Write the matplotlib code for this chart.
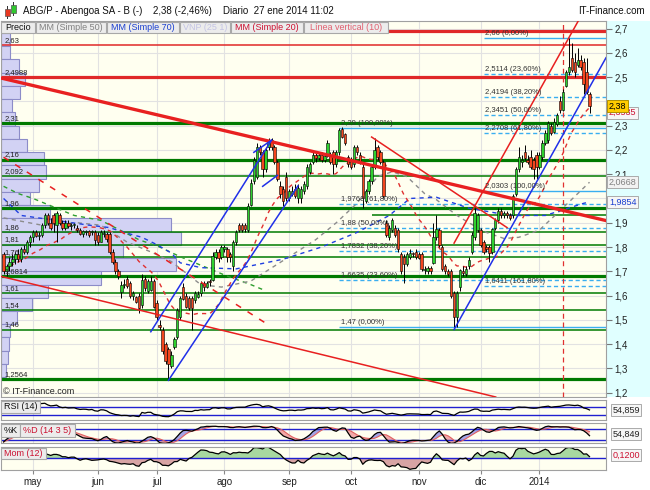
import numpy as np
import pandas as pd
import matplotlib
matplotlib.use('Agg')
import matplotlib.pyplot as plt
from matplotlib.patches import Rectangle
from matplotlib.transforms import blended_transform_factory

plt.rcParams['font.family'] = ['Liberation Sans', 'DejaVu Sans']

# ---------------- data ----------------
holidays = ['2013-05-01', '2013-12-25', '2013-12-26', '2014-01-01']
dates = pd.bdate_range('2013-04-17', '2014-01-27')
dates = dates[~dates.isin(pd.to_datetime(holidays))]

opens = [1.77, 1.70, 1.72, 1.74, 1.75, 1.77, 1.75, 1.79, 1.78, 1.82,
         1.84, 1.86, 1.845, 1.85, 1.89, 1.93, 1.90, 1.93, 1.89, 1.93,
         1.90, 1.88, 1.90, 1.885, 1.89, 1.88, 1.87, 1.855, 1.86, 1.865,
         1.86, 1.86, 1.85, 1.82, 1.855, 1.855, 1.855, 1.78, 1.74, 1.70,
         1.615, 1.645, 1.67, 1.65, 1.60, 1.595, 1.60, 1.56, 1.67, 1.62,
         1.625, 1.66, 1.57, 1.48, 1.46, 1.40, 1.38, 1.31, 1.39, 1.43,
         1.51, 1.635, 1.60, 1.59, 1.59, 1.58, 1.595, 1.61, 1.65, 1.635,
         1.66, 1.665, 1.76, 1.78, 1.76, 1.79, 1.79, 1.77, 1.72, 1.82,
         1.89, 1.89, 1.89, 1.87, 1.975, 2.07, 2.09, 2.21, 2.19, 2.12,
         2.21, 2.24, 2.21, 2.15, 2.05, 2.04, 2.09, 2.00, 2.02, 2.04,
         2.00, 2.00, 2.03, 2.05, 2.11, 2.15, 2.18, 2.165, 2.18, 2.16,
         2.175, 2.18, 2.19, 2.14, 2.19, 2.285, 2.265, 2.17, 2.16, 2.14,
         2.21, 2.18, 2.13, 1.99, 2.03, 2.07, 2.13, 2.21, 2.19, 2.15,
         1.90, 1.84, 1.87, 1.88, 1.87, 1.77, 1.76, 1.73, 1.76, 1.775,
         1.78, 1.77, 1.77, 1.705, 1.70, 1.715, 1.735, 1.84, 1.87, 1.80,
         1.72, 1.70, 1.70, 1.61, 1.51, 1.635, 1.70, 1.69, 1.72, 1.78,
         1.84, 1.87, 1.87, 1.82, 1.80, 1.80, 1.78, 1.88, 1.91, 1.95,
         1.93, 1.94, 1.93, 1.93, 2.02, 2.12, 2.15, 2.19, 2.16, 2.17,
         2.16, 2.18, 2.13, 2.17, 2.23, 2.24, 2.30, 2.275, 2.305, 2.40,
         2.365, 2.465, 2.52, 2.58, 2.56, 2.55, 2.57, 2.56, 2.52, 2.43]
highs = [1.78, 1.73, 1.76, 1.77, 1.78, 1.79, 1.80, 1.81, 1.83, 1.85,
         1.87, 1.87, 1.86, 1.90, 1.94, 1.94, 1.92, 1.94, 1.95, 1.94,
         1.91, 1.91, 1.91, 1.90, 1.90, 1.89, 1.88, 1.87, 1.87, 1.87,
         1.87, 1.87, 1.86, 1.87, 1.87, 1.86, 1.86, 1.79, 1.75, 1.71,
         1.66, 1.67, 1.68, 1.66, 1.62, 1.60, 1.61, 1.69, 1.68, 1.67,
         1.68, 1.67, 1.58, 1.50, 1.47, 1.41, 1.39, 1.37, 1.43, 1.55,
         1.60, 1.65, 1.61, 1.60, 1.60, 1.62, 1.62, 1.66, 1.66, 1.66,
         1.67, 1.78, 1.79, 1.79, 1.81, 1.81, 1.80, 1.78, 1.83, 1.87,
         1.90, 1.90, 1.90, 1.98, 2.08, 2.17, 2.23, 2.22, 2.20, 2.21,
         2.25, 2.25, 2.22, 2.16, 2.07, 2.05, 2.11, 2.04, 2.05, 2.06,
         2.06, 2.05, 2.07, 2.14, 2.15, 2.19, 2.19, 2.19, 2.19, 2.18,
         2.24, 2.19, 2.20, 2.20, 2.29, 2.295, 2.27, 2.18, 2.17, 2.22,
         2.22, 2.19, 2.14, 2.04, 2.08, 2.14, 2.25, 2.22, 2.20, 2.16,
         1.91, 1.89, 1.92, 1.89, 1.88, 1.78, 1.77, 1.78, 1.79, 1.78,
         1.79, 1.78, 1.78, 1.72, 1.72, 1.72, 1.90, 1.93, 1.88, 1.81,
         1.73, 1.71, 1.71, 1.62, 1.62, 1.71, 1.72, 1.72, 1.76, 1.86,
         1.96, 1.94, 1.88, 1.83, 1.81, 1.81, 1.88, 1.92, 1.96, 1.96,
         1.95, 1.95, 1.94, 2.02, 2.13, 2.21, 2.18, 2.22, 2.18, 2.20,
         2.17, 2.19, 2.19, 2.24, 2.28, 2.32, 2.31, 2.33, 2.35, 2.42,
         2.45, 2.53, 2.66, 2.64, 2.60, 2.62, 2.59, 2.58, 2.58, 2.44]
lows = [1.69, 1.68, 1.70, 1.72, 1.73, 1.74, 1.74, 1.77, 1.77, 1.80,
        1.82, 1.84, 1.83, 1.84, 1.88, 1.89, 1.87, 1.86, 1.82, 1.89,
        1.87, 1.87, 1.88, 1.87, 1.88, 1.86, 1.85, 1.84, 1.85, 1.84,
        1.85, 1.81, 1.81, 1.82, 1.84, 1.82, 1.77, 1.73, 1.69, 1.67,
        1.59, 1.63, 1.63, 1.59, 1.58, 1.57, 1.53, 1.55, 1.62, 1.61,
        1.62, 1.55, 1.50, 1.46, 1.36, 1.32, 1.26, 1.30, 1.38, 1.42,
        1.50, 1.58, 1.55, 1.54, 1.46, 1.57, 1.59, 1.60, 1.62, 1.63,
        1.64, 1.66, 1.75, 1.74, 1.75, 1.78, 1.74, 1.74, 1.70, 1.81,
        1.86, 1.86, 1.86, 1.86, 1.97, 2.06, 2.08, 2.18, 2.09, 2.11,
        2.20, 2.20, 2.14, 2.07, 2.00, 1.97, 1.99, 1.99, 2.01, 2.00,
        1.98, 1.98, 2.02, 2.04, 2.10, 2.14, 2.15, 2.16, 2.15, 2.15,
        2.17, 2.14, 2.10, 2.13, 2.18, 2.25, 2.22, 2.13, 2.12, 2.13,
        2.18, 2.14, 1.96, 1.98, 2.02, 2.06, 2.12, 2.16, 2.14, 2.00,
        1.84, 1.83, 1.86, 1.84, 1.78, 1.69, 1.65, 1.72, 1.75, 1.76,
        1.75, 1.75, 1.70, 1.69, 1.69, 1.69, 1.73, 1.83, 1.80, 1.70,
        1.69, 1.68, 1.59, 1.47, 1.47, 1.62, 1.68, 1.68, 1.71, 1.77,
        1.83, 1.86, 1.80, 1.77, 1.78, 1.74, 1.77, 1.87, 1.90, 1.92,
        1.92, 1.92, 1.91, 1.92, 2.01, 2.11, 2.13, 2.16, 2.14, 2.12,
        2.08, 2.08, 2.12, 2.16, 2.22, 2.23, 2.26, 2.27, 2.30, 2.35,
        2.36, 2.46, 2.51, 2.52, 2.50, 2.54, 2.53, 2.43, 2.43, 2.35]
closes = [1.70, 1.72, 1.74, 1.75, 1.77, 1.75, 1.79, 1.78, 1.82, 1.84,
          1.86, 1.845, 1.85, 1.89, 1.93, 1.90, 1.88, 1.90, 1.94, 1.90,
          1.88, 1.90, 1.885, 1.89, 1.895, 1.87, 1.855, 1.865, 1.862, 1.85,
          1.861, 1.83, 1.82, 1.86, 1.857, 1.835, 1.78, 1.74, 1.70, 1.68,
          1.643, 1.646, 1.64, 1.60, 1.61, 1.575, 1.55, 1.665, 1.63, 1.66,
          1.66, 1.555, 1.51, 1.47, 1.37, 1.33, 1.32, 1.355, 1.42, 1.54,
          1.59, 1.585, 1.555, 1.55, 1.55, 1.61, 1.605, 1.65, 1.635, 1.65,
          1.655, 1.765, 1.78, 1.755, 1.80, 1.80, 1.76, 1.76, 1.82, 1.86,
          1.87, 1.87, 1.875, 1.97, 2.065, 2.16, 2.21, 2.19, 2.12, 2.20,
          2.24, 2.21, 2.15, 2.08, 2.02, 1.99, 2.00, 2.03, 2.03, 2.01,
          2.045, 2.04, 2.06, 2.13, 2.14, 2.18, 2.165, 2.18, 2.16, 2.175,
          2.23, 2.15, 2.14, 2.19, 2.28, 2.255, 2.23, 2.14, 2.13, 2.21,
          2.19, 2.15, 2.00, 2.03, 2.07, 2.13, 2.20, 2.17, 2.15, 2.01,
          1.85, 1.88, 1.91, 1.85, 1.79, 1.70, 1.73, 1.77, 1.775, 1.77,
          1.76, 1.755, 1.71, 1.71, 1.715, 1.70, 1.84, 1.875, 1.81, 1.71,
          1.70, 1.69, 1.60, 1.51, 1.61, 1.705, 1.695, 1.71, 1.745, 1.85,
          1.94, 1.93, 1.81, 1.78, 1.79, 1.775, 1.875, 1.91, 1.95, 1.93,
          1.94, 1.93, 1.92, 2.01, 2.12, 2.17, 2.16, 2.165, 2.15, 2.13,
          2.12, 2.13, 2.18, 2.23, 2.27, 2.31, 2.27, 2.315, 2.345, 2.365,
          2.44, 2.52, 2.54, 2.53, 2.52, 2.57, 2.54, 2.47, 2.44, 2.38]

# moving averages (sparse points)
ma50_dates = ['2013-04-17', '2013-05-07', '2013-05-23', '2013-06-04', '2013-06-17', '2013-06-27',
              '2013-07-08', '2013-07-22', '2013-07-31', '2013-08-14', '2013-09-02', '2013-09-13',
              '2013-09-24', '2013-10-03', '2013-10-14', '2013-10-21', '2013-10-28', '2013-11-05',
              '2013-11-11', '2013-11-20', '2013-11-26', '2013-12-04', '2013-12-12', '2013-12-19',
              '2014-01-02', '2014-01-13', '2014-01-27']
ma50_vals = [1.92, 1.89, 1.90, 1.89, 1.82, 1.78, 1.74, 1.645, 1.635, 1.66, 1.76, 1.83,
             1.90, 1.98, 2.09, 2.11, 2.09, 2.02, 1.995, 1.93, 1.90, 1.86, 1.835, 1.84,
             1.87, 1.95, 2.0668]
ma70_dates = ['2013-04-17', '2013-04-25', '2013-05-29', '2013-06-07', '2013-06-14', '2013-06-24',
              '2013-07-01', '2013-07-08', '2013-07-11', '2013-07-22', '2013-08-07', '2013-08-29',
              '2013-09-17', '2013-10-03', '2013-10-18', '2013-10-29', '2013-11-11', '2013-11-26',
              '2013-12-16', '2014-01-06', '2014-01-23', '2014-01-27']
ma70_vals = [2.00, 1.93, 1.89, 1.88, 1.86, 1.84, 1.81, 1.775, 1.735, 1.715, 1.71, 1.75,
             1.80, 1.86, 1.93, 2.00, 2.005, 1.96, 1.93, 1.93, 1.98, 1.9854]
green_ma_dates = ['2013-04-17', '2013-04-24', '2013-05-02', '2013-05-13', '2013-05-22', '2013-06-04',
                  '2013-06-21', '2013-07-02', '2013-07-11', '2013-07-23', '2013-08-02', '2013-08-14',
                  '2013-08-21']
green_ma_vals = [2.05, 2.02, 2.00, 1.965, 1.93, 1.91, 1.83, 1.80, 1.76, 1.72, 1.68, 1.645, 1.62]

last_price_label = '2,38'
last_ma20 = 2.3535
last_ma50 = 2.0668
last_ma70 = 1.9854
rsi_last = 54.859
stoch_last = 54.849
mom_last = 0.1200

# horizontal levels
green_levels = [2.31, 2.16, 2.092, 1.96, 1.86, 1.81, 1.76, 1.6814, 1.61, 1.54, 1.46, 1.2564]
green_thick = [True, True, False, True, False, False, False, True, False, False, False, True]
green_extra_level = 1.93
green_extra_start = '2013-10-10'
red_levels = [2.69, 2.63, 2.4988]
red_thick = [True, False, True]
red_labelled = [False, True, True]

# fibonacci retracements
mid_fib_start = '2013-09-25'
mid_fib_values = [2.29, 1.9768, 1.88, 1.7832, 1.6635, 1.47]
mid_fib_pcts = ['100,00%', '61,80%', '50,00%', '38,20%', '23,60%', '0,00%']
right_fib_start = '2013-12-03'
right_fib_values = [2.66, 2.5114, 2.4194, 2.3451, 2.2708, 2.0303, 1.6411]
right_fib_pcts = ['0,00%', '23,60%', '38,20%', '50,00%', '61,80%', '100,00%', '161,80%']

# drawn trend lines (date, price anchors)
red_thick_trend = (['2013-05-02', '2014-01-27'], [2.465, 1.925])
red_thin_trend = (['2013-05-02', '2013-11-14'], [1.647, 1.233])
red_dashed_trend = (['2013-04-17', '2013-08-22'], [2.170, 1.479])
red_up_trend = (['2013-11-19', '2014-01-27'], [1.816, 2.814])
red_down_short = (['2013-10-10', '2013-12-13'], [2.253, 1.880])
blue_a = (['2013-06-27', '2013-08-23'], [1.451, 2.24])
blue_a_top = (['2013-08-15', '2013-08-23'], [2.19, 2.24])
blue_small = (['2013-08-20', '2013-08-27'], [2.05, 2.095])
blue_b = (['2013-07-05', '2013-09-05'], [1.251, 2.052])
blue_right = (['2013-11-19', '2014-01-27'], [1.46, 2.458])
vertical_line_date = '2014-01-14'

# volume by price (VNP 25), top to bottom
vp_top, vp_bottom = 2.6815, 1.264
vp_volume = [9, 9, 18, 24, 19, 11, 14, 18, 26, 43, 45, 38, 29, 49, 170, 180, 122, 175,
             100, 47, 31, 16, 9, 8, 7, 5]

month_labels = ['may', 'jun', 'jul', 'ago', 'sep', 'oct', 'nov', 'dic', '2014']
legend_labels = ['Precio', 'MM (Simple 50)', 'MM (Simple 70)', 'VNP (25 1)', 'MM (Simple 20)',
                 'Línea vertical (10)']
legend_colors = ['#111111', '#808080', '#1a3fd0', '#c4c4e4', '#cc1030', '#e06070']
hidden_price_ticks = [2.4, 2.0]   # covered by value boxes in the original

# ---------------- helpers ----------------
W, H = 650, 490
fig = plt.figure(figsize=(6.5, 4.9), dpi=100)
fig.patch.set_facecolor('white')


def fr(x0, y0, x1, y1):
    return [x0 / W, 1 - y1 / H, (x1 - x0) / W, (y1 - y0) / H]


def fig_box(x0, y0, x1, y1, fc, ec, z=5, lw=0.8):
    r = Rectangle((x0 / W, 1 - y1 / H), (x1 - x0) / W, (y1 - y0) / H,
                  transform=fig.transFigure, fc=fc, ec=ec, lw=lw, zorder=z)
    fig.add_artist(r)


def pos(ds):
    return dates.get_indexer(pd.to_datetime(ds)).astype(float)


def comma(v):
    return str(v).replace('.', ',')


XL, XR = -0.87, 204.6
panel_bg = '#fffff0'
spine_c = '#a0a0a0'

ax = fig.add_axes(fr(1, 21, 606, 397))
ax_rsi = fig.add_axes(fr(1, 400, 606, 420))
ax_st = fig.add_axes(fr(1, 423, 606, 443))
ax_mom = fig.add_axes(fr(1, 447, 606, 470))

x = np.arange(len(dates), dtype=float)
o, h, l, c = map(np.array, (opens, highs, lows, closes))
month_pos = [i for i in range(1, len(dates)) if dates[i].month != dates[i - 1].month]

for a in (ax, ax_rsi, ax_st, ax_mom):
    a.set_facecolor(panel_bg)
    a.set_xlim(XL, XR)
    for s in a.spines.values():
        s.set_color(spine_c)
        s.set_linewidth(0.8)
    a.set_xticks(month_pos)
    a.grid(axis='x', color='#e2e2e2', lw=0.8, zorder=0)
    a.set_axisbelow(True)
    a.tick_params(axis='x', labelbottom=False, length=0)

# right cyan strip of main price axis
fig_box(606, 21, 650, 397, '#e0ffff', 'none', z=-1)

# ---------------- main panel ----------------
ax.set_ylim(1.1823, 2.7309)
yt = np.round(np.arange(1.2, 2.71, 0.1), 1)
ax.yaxis.tick_right()
ax.set_yticks(yt)
ax.set_yticklabels(['' if any(abs(v - hv) < 1e-6 for hv in hidden_price_ticks)
                    else f'{v:.1f}'.replace('.', ',') for v in yt])
ax.tick_params(axis='y', direction='out', length=4, pad=2, labelsize=7, color='#777777',
               labelcolor='#222222')
ax.grid(axis='y', color='#e2e2e2', lw=0.8, zorder=0)

trans = blended_transform_factory(ax.transAxes, ax.transData)

# volume profile
edges = np.linspace(vp_top, vp_bottom, len(vp_volume) + 1)
vmax = max(vp_volume)
for top, bot, v in zip(edges[:-1], edges[1:], vp_volume):
    ax.add_patch(Rectangle((0, bot), 0.298 * v / vmax, top - bot, transform=trans,
                           fc='#d2d2f4', ec='#8c8cc8', lw=0.8, zorder=1))

# horizontal levels
for lev, thick in zip(green_levels, green_thick):
    ax.axhline(lev, color='#007a00', lw=2.3 if thick else 1.1, zorder=2)
    ax.annotate(comma(lev), xy=(0.006, lev), xycoords=trans, xytext=(0, 0.8),
                textcoords='offset points', fontsize=5.5, color='#222222', va='bottom', zorder=9)
ax.hlines(green_extra_level, pos([green_extra_start])[0], XR, color='#007a00', lw=1.1, zorder=2)
for lev, thick, lab in zip(red_levels, red_thick, red_labelled):
    ax.axhline(lev, color='#e02828', lw=2.3 if thick else 1.1, zorder=2)
    if lab:
        ax.annotate(comma(lev), xy=(0.006, lev), xycoords=trans, xytext=(0, 0.8),
                    textcoords='offset points', fontsize=5.5, color='#222222', va='bottom', zorder=9)

# fibonacci
for start, vals, pcts in ((mid_fib_start, mid_fib_values, mid_fib_pcts),
                          (right_fib_start, right_fib_values, right_fib_pcts)):
    xs = pos([start])[0]
    for v, p in zip(vals, pcts):
        solid = p in ('0,00%', '100,00%')
        ax.hlines(v, xs, XR, color='#3aaef0', lw=1.0,
                  linestyle='-' if solid else (0, (3, 2)), zorder=3)
        ax.annotate(f'{comma(v)} ({p})', xy=(xs, v), xytext=(1, 0.6), textcoords='offset points',
                    fontsize=5.5, color='#333333', va='bottom', zorder=9)

# moving averages
ax.plot(pos(green_ma_dates), green_ma_vals, color='#2e9e2e', lw=1.0, ls=(0, (3, 3)), zorder=4)
ax.plot(pos(ma50_dates), ma50_vals, color='#8c8c8c', lw=1.0, ls=(0, (3, 3)), zorder=4)
ax.plot(pos(ma70_dates), ma70_vals, color='#2040e0', lw=1.0, ls=(0, (3, 3)), zorder=4)
ma20 = pd.Series(closes).rolling(20, min_periods=1).mean()
ax.plot(x, ma20, color='#e03030', lw=1.0, ls=(0, (3, 3)), zorder=4)

# vertical line
ax.axvline(pos([vertical_line_date])[0], color='#e03030', lw=0.9, ls=(0, (4, 3)), zorder=4)

# trend lines
def seg(tl, **kw):
    ax.plot(pos(tl[0]), tl[1], **kw)


def seg_right(tl, **kw):
    i0, i1 = pos(tl[0])
    s = (tl[1][1] - tl[1][0]) / (i1 - i0)
    ax.plot([i0, XR], [tl[1][0], tl[1][0] + s * (XR - i0)], **kw)


ax.axline((pos(red_thick_trend[0])[0], red_thick_trend[1][0]),
          (pos(red_thick_trend[0])[1], red_thick_trend[1][1]), color='#e82020', lw=2.4, zorder=8)
ax.axline((pos(red_thin_trend[0])[0], red_thin_trend[1][0]),
          (pos(red_thin_trend[0])[1], red_thin_trend[1][1]), color='#e82020', lw=1.1, zorder=8)
seg(red_dashed_trend, color='#e82020', lw=1.1, ls=(0, (4, 5)), zorder=8)
seg(red_up_trend, color='#e82020', lw=1.1, zorder=8)
seg(red_down_short, color='#e82020', lw=1.1, zorder=8)
seg(blue_a, color='#2030e8', lw=1.1, zorder=8)
seg(blue_a_top, color='#2030e8', lw=1.1, zorder=8)
seg(blue_small, color='#2030e8', lw=1.1, zorder=8)
seg(blue_b, color='#2030e8', lw=1.1, zorder=8)
seg_right(blue_right, color='#2030e8', lw=1.1, zorder=8)

# candles
up = c >= o
blo = np.minimum(o, c)
bh = np.maximum(np.abs(c - o), 0.004)
ax.vlines(x, l, h, color='black', lw=0.7, zorder=6)
ax.bar(x[up], bh[up], bottom=blo[up], width=0.8, color='#2ed02e', edgecolor='black',
       lw=0.4, zorder=7)
ax.bar(x[~up], bh[~up], bottom=blo[~up], width=0.8, color='#f2461e', edgecolor='black',
       lw=0.4, zorder=7)

ax.text(0.004, 0.014, '© IT-Finance.com', transform=ax.transAxes, fontsize=6.5,
        color='#222222', va='center', zorder=9)

# value boxes on the price axis
def val_box(a, v, text, fc, tc, dx=2.2, ec='#aaaaaa', z=10):
    tr = blended_transform_factory(a.transAxes, a.transData)
    a.annotate(text, xy=(1, v), xycoords=tr, xytext=(dx, 0), textcoords='offset points',
               fontsize=6.5, color=tc, va='center', ha='left', annotation_clip=False,
               bbox=dict(boxstyle='square,pad=0.18', fc=fc, ec=ec, lw=0.7), zorder=z)


val_box(ax, last_ma20, comma(last_ma20), '#f6f6f6', '#cc1030', z=10)
val_box(ax, 2.38, last_price_label, '#ffcc00', '#000000', ec='#b09000', z=11)
val_box(ax, last_ma50, comma(last_ma50), '#f2f2f2', '#808080')
val_box(ax, last_ma70, comma(last_ma70), '#f6f6f6', '#1a3fd0')

# ---------------- indicators ----------------
cs = pd.Series(closes)
delta = cs.diff()
gain = delta.clip(lower=0).ewm(alpha=1 / 14, adjust=False).mean()
loss = (-delta.clip(upper=0)).ewm(alpha=1 / 14, adjust=False).mean()
rsi = 100 - 100 / (1 + gain / loss.replace(0, np.nan))

ll = pd.Series(lows).rolling(14, min_periods=1).min()
hh = pd.Series(highs).rolling(14, min_periods=1).max()
kraw = 100 * (cs - ll) / (hh - ll)
k = kraw.rolling(3, min_periods=1).mean()
d = k.rolling(5, min_periods=1).mean()

mom = cs - cs.shift(12)

ax_rsi.set_ylim(4, 108)
ax_rsi.axhline(70, color='#2020d0', lw=1.0)
ax_rsi.axhline(30, color='#2020d0', lw=1.0)
ax_rsi.plot(x, rsi, color='black', lw=0.9)

ax_st.set_ylim(5.3, 114.4)
ax_st.fill_between(x, k, d, where=(k >= d), interpolate=True, color='#a4a4e6', lw=0)
ax_st.fill_between(x, k, d, where=(k < d), interpolate=True, color='#f2a8a8', lw=0)
ax_st.axhline(80, color='#2020d0', lw=1.0)
ax_st.axhline(20, color='#2020d0', lw=1.0)
ax_st.plot(x, d, color='#e06060', lw=0.8)
ax_st.plot(x, k, color='black', lw=0.9)

ax_mom.set_ylim(-0.45, 0.435)
mv = mom.values
ax_mom.fill_between(x, mv, 0, where=(mv >= 0), interpolate=True, color='#a8d8a0', lw=0)
ax_mom.fill_between(x, mv, 0, where=(mv < 0), interpolate=True, color='#d8a4a4', lw=0)
ax_mom.axhline(0, color='#2020d0', lw=1.0)
ax_mom.plot(x, mv, color='black', lw=0.9)

for a in (ax_rsi, ax_st, ax_mom):
    a.set_yticks([])

ax_mom.set_xticks(month_pos)
ax_mom.set_xticklabels(month_labels)
ax_mom.tick_params(axis='x', labelbottom=True, length=3, pad=2, labelsize=7,
                   color='#888888', labelcolor='#222222')

val_box(ax_rsi, rsi_last, comma(rsi_last), '#f6f6f6', '#222222', dx=4.5)
val_box(ax_st, stoch_last, comma(stoch_last), '#f6f6f6', '#222222', dx=4.5)
val_box(ax_mom, mom_last, f'{mom_last:.4f}'.replace('.', ','), '#f6f6f6', '#cc1030', dx=4.5)

# ---------------- header / legend boxes ----------------
fig.text(23 / W, 1 - 10.5 / H, 'ABG/P - Abengoa SA - B (-)', fontsize=7, va='center', color='#111111')
fig.text(153 / W, 1 - 10.5 / H, '2,38 (-2,46%)', fontsize=7, va='center', color='#111111')
fig.text(223 / W, 1 - 10.5 / H, 'Diario  27 ene 2014 11:02', fontsize=7, va='center', color='#111111')
fig.text(645 / W, 1 - 10.5 / H, 'IT-Finance.com', fontsize=7, va='center', ha='right', color='#111111')
# small candle icon
fig_box(7.3, 6, 7.9, 19, '#333333', 'none', z=5)
fig_box(5, 9, 10, 16, '#e83820', '#555555', z=6, lw=0.5)
fig_box(13.2, 2, 13.8, 16, '#333333', 'none', z=5)
fig_box(11, 5, 16, 13, '#30c830', '#555555', z=6, lw=0.5)

legend_x = [(1, 35), (36, 106), (107, 179), (180, 230), (231, 303), (304, 388)]
for (x0, x1), lab, col in zip(legend_x, legend_labels, legend_colors):
    fig_box(x0, 22, x1, 33, '#ececec', '#a8a8a8', z=5)
    fig.text((x0 + x1) / 2 / W, 1 - 27.7 / H, lab, fontsize=6.5, color=col, ha='center',
             va='center', zorder=6)

panel_boxes = [((1, 40), (400.5, 412.5), 'RSI (14)', '#111111'),
               ((1, 20), (424, 436.5), '%K', '#111111'),
               ((20, 75), (424, 436.5), '%D (14 3 5)', '#cc1030'),
               ((1, 46), (448, 459), 'Mom (12)', '#cc1030')]
for (x0, x1), (y0, y1), lab, col in panel_boxes:
    fig_box(x0, y0, x1, y1, '#ececec', '#a8a8a8', z=5)
    fig.text((x0 + x1) / 2 / W, 1 - (y0 + y1) / 2 / H, lab, fontsize=6.5, color=col,
             ha='center', va='center', zorder=6)

fig.savefig('out.png', dpi=100, facecolor=fig.get_facecolor())
